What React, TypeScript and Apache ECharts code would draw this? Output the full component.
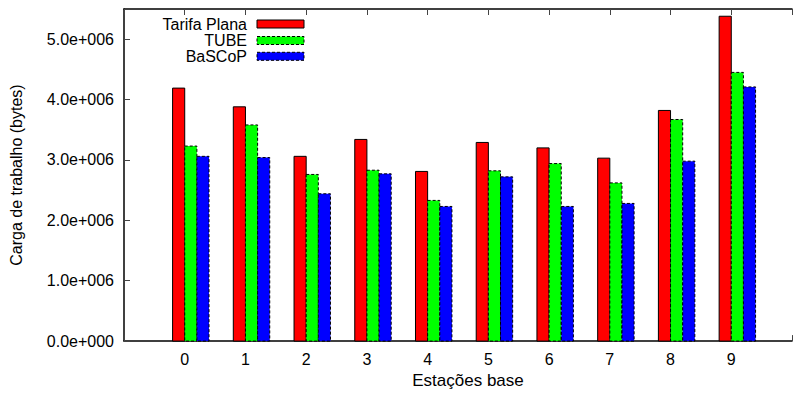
import React, { useEffect, useRef } from "react";
import * as echarts from "echarts";

// Base stations (x categories)
const stations = [0, 1, 2, 3, 4, 5, 6, 7, 8, 9];

// Workload per base station, in bytes
const tarifaPlana = [4190000, 3880000, 3060000, 3340000, 2810000, 3290000, 3200000, 3030000, 3820000, 5380000];
const tube = [3230000, 3580000, 2760000, 2830000, 2330000, 2820000, 2940000, 2620000, 3670000, 4450000];
const bascop = [3060000, 3040000, 2440000, 2770000, 2230000, 2720000, 2230000, 2280000, 2980000, 4210000];

const seriesNames = ["Tarifa Plana", "TUBE", "BaSCoP"];
const seriesColors = ["#ff0000", "#00ff00", "#0000ff"];
const seriesValues = [tarifaPlana, tube, bascop];
// bar centre offsets inside a cluster, in x units
const barOffsets = [-0.1, 0.1, 0.3];
const BAR_W = 0.2;

const Y_MAX = 5500000;

const FONT = "'Liberation Sans', Arial, Helvetica, sans-serif";

function fmtSci(v: number): string {
  if (v === 0) return "0.0e+000";
  const exp = Math.floor(Math.log10(Math.abs(v)) + 1e-9);
  const mant = v / Math.pow(10, exp);
  const sign = exp < 0 ? "-" : "+";
  return mant.toFixed(1) + "e" + sign + String(Math.abs(exp)).padStart(3, "0");
}

export default function App() {
  const ref = useRef<HTMLDivElement>(null);

  useEffect(() => {
    if (!ref.current) return;
    const chart = echarts.init(ref.current, null, { renderer: "svg" });

    const series = seriesNames.map((name, si) => ({
      type: "custom",
      name,
      z: 2,
      data: stations.map((s, i) => [s, seriesValues[si][i]]),
      encode: { x: 0, y: 1 },
      renderItem: (params: any, api: any) => {
        const x = api.value(0) as number;
        const y = api.value(1) as number;
        const p0 = api.coord([x + barOffsets[si] - BAR_W / 2, y]);
        const p1 = api.coord([x + barOffsets[si] + BAR_W / 2, 0]);
        return {
          type: "rect",
          shape: { x: p0[0], y: p0[1], width: p1[0] - p0[0], height: p1[1] - p0[1] },
          style: {
            fill: seriesColors[si],
            stroke: "#000",
            lineWidth: 1,
            lineDash: si === 0 ? null : [3, 2],
          },
        };
      },
    }));

    // key: right-aligned labels with a swatch to the right
    const keyRows = [24, 40.5, 56.3];
    const keyGraphics: any[] = [];
    seriesNames.forEach((name, i) => {
      keyGraphics.push({
        type: "text",
        x: 247,
        y: keyRows[i],
        style: {
          text: name,
          fill: "#000",
          font: `16px ${FONT}`,
          align: "right",
          verticalAlign: "middle",
        },
      });
      keyGraphics.push({
        type: "rect",
        shape: { x: 257, y: keyRows[i] - 4, width: 47, height: 8 },
        style: {
          fill: seriesColors[i],
          stroke: "#000",
          lineWidth: 1,
          lineDash: i === 0 ? null : [3, 2],
        },
      });
    });

    const xCommon = {
      type: "value",
      min: -1,
      max: 10,
      interval: 1,
      splitLine: { show: false },
      axisLine: { show: true, onZero: false, lineStyle: { color: "#000", width: 1.5 } },
      axisTick: { show: true, inside: true, length: 6, lineStyle: { color: "#444", width: 1 } },
    };

    chart.setOption({
      animation: false,
      backgroundColor: "#fff",
      grid: { left: 122, top: 9, width: 684, height: 335, containLabel: false },
      xAxis: [
        {
          ...xCommon,
          position: "bottom",
          name: "Estações base",
          nameLocation: "middle",
          nameGap: 24,
          nameTextStyle: { fontFamily: FONT, fontSize: 17, color: "#000", padding: [0, 0, 0, 20] },
          axisLabel: {
            margin: 10,
            fontFamily: FONT,
            fontSize: 16,
            color: "#000",
            formatter: (v: number) => (v >= 0 && v <= 9 ? String(v) : ""),
          },
        },
        {
          ...xCommon,
          position: "top",
          axisLabel: { show: false },
        },
      ],
      yAxis: {
        type: "value",
        min: 0,
        max: Y_MAX,
        interval: 1000000,
        name: "Carga de trabalho (bytes)",
        nameLocation: "middle",
        nameGap: 100,
        nameRotate: 90,
        nameTextStyle: { fontFamily: FONT, fontSize: 16, color: "#000" },
        splitLine: { show: false },
        axisLine: { show: true, onZero: false, lineStyle: { color: "#000", width: 1.5 } },
        axisTick: { show: true, inside: true, length: 6, lineStyle: { color: "#444", width: 1 } },
        axisLabel: {
          margin: 10,
          fontFamily: FONT,
          fontSize: 16,
          color: "#000",
          formatter: (v: number) => (v >= Y_MAX ? "" : fmtSci(v)),
        },
      },
      graphic: keyGraphics,
      series,
    });

    return () => chart.dispose();
  }, []);

  return (
    <div
      ref={ref}
      style={{ position: "absolute", left: 0, top: 0, width: 795, height: 394, background: "#fff" }}
    />
  );
}
